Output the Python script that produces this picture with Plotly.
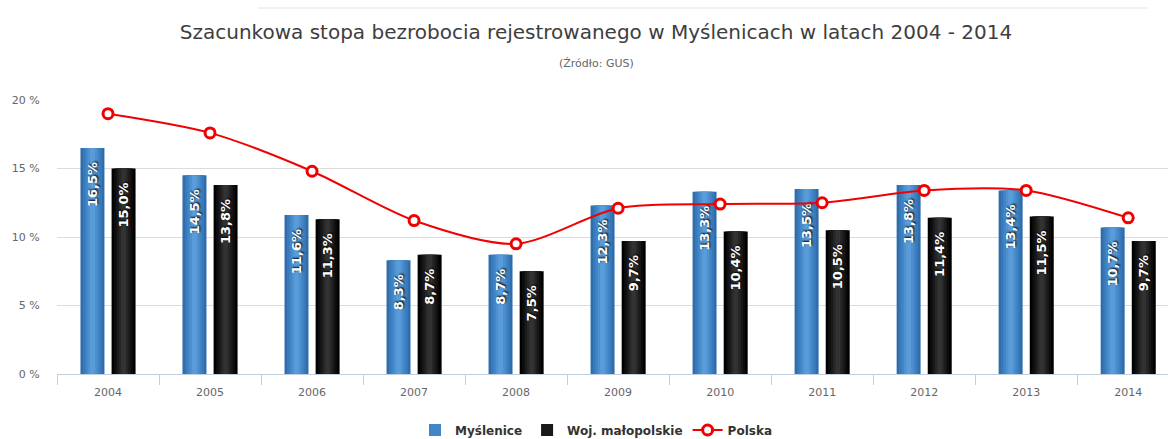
import plotly.graph_objects as go

years = ["2004", "2005", "2006", "2007", "2008", "2009", "2010", "2011", "2012", "2013", "2014"]
myslenice = [16.5, 14.5, 11.6, 8.3, 8.7, 12.3, 13.3, 13.5, 13.8, 13.4, 10.7]
malopolskie = [15.0, 13.8, 11.3, 8.7, 7.5, 9.7, 10.4, 10.5, 11.4, 11.5, 9.7]
polska = [19.0, 17.6, 14.8, 11.2, 9.5, 12.1, 12.4, 12.5, 13.4, 13.4, 11.4]
y_ticks = [0, 5, 10, 15, 20]
y_tick_labels = ["0 %", "5 %", "10 %", "15 %", "20 %"]

def fmt(v):
    return f"{v:.1f}".replace(".", ",") + "%"

LABEL_PAD = 0.8  # gap (in axis units) between bar top and its rotated label
BAR_W = 0.235
series = [
    ("Myślenice", myslenice, -0.27,
     ["#2f6cab", "#3879ba", "#4285c6", "#4d91d1", "#5a9cd9"]),
    ("Woj. małopolskie", malopolskie, 0.035,
     ["#000000", "#0c0c0c", "#191919", "#262626", "#323232"]),
]
fracs = [1.0, 0.8, 0.6, 0.4, 0.2]

fig = go.Figure()
for name, vals, off, cols in series:
    for k, (fr, c) in enumerate(zip(fracs, cols)):
        w = BAR_W * fr
        fig.add_trace(go.Bar(
            x=years, y=vals, name=name,
            width=w, offset=off + (BAR_W - w) / 2,
            marker=dict(color=c, line=dict(width=0)),
            showlegend=(k == 2), hoverinfo="skip" if k != 2 else None,
            legendrank=1 if name == "Myślenice" else 2,
        ))
    fig.add_trace(go.Bar(
        x=years, y=[v - LABEL_PAD for v in vals], name=name, width=BAR_W, offset=off,
        marker=dict(color="rgba(0,0,0,0)", line=dict(width=0)),
        text=[fmt(v) for v in vals], textposition="inside",
        insidetextanchor="end", textangle=-90,
        textfont=dict(family="DejaVu Sans", size=13, color="white", weight="bold",
                      shadow="1px 1px 2px #000000"),
        showlegend=False, hoverinfo="skip", constraintext="none",
    ))

fig.add_trace(go.Scatter(
    x=years, y=polska, name="Polska", mode="lines+markers",
    line=dict(color="#f00000", width=2, shape="spline", smoothing=0.8),
    marker=dict(symbol="circle", size=10, color="white",
                line=dict(color="#f00000", width=3)),
    cliponaxis=False, legendrank=3,
))

fig.update_layout(
    width=1168, height=439,
    margin=dict(l=57, r=0, t=100, b=65, autoexpand=False),
    barmode="overlay",
    paper_bgcolor="white", plot_bgcolor="white",
    font=dict(family="DejaVu Sans", color="#666666", size=11),
    title=dict(
        text="Szacunkowa stopa bezrobocia rejestrowanego w Myślenicach w latach 2004 - 2014",
        x=596 / 1168, xref="container", xanchor="center",
        y=1 - 32 / 439, yref="container", yanchor="middle",
        font=dict(family="DejaVu Sans", size=20, color="#3e3e3e"),
    ),
    annotations=[dict(
        text="(Źródło: GUS)", xref="paper", yref="paper",
        x=(596 - 57) / 1111, y=(374 - 63) / 274, xanchor="center", yanchor="middle",
        showarrow=False, font=dict(family="DejaVu Sans", size=11, color="#666666"),
    )],
    shapes=[dict(
        type="line", xref="paper", yref="paper",
        x0=(258 - 57) / 1111, x1=(1148 - 57) / 1111,
        y0=(374 - 8) / 274, y1=(374 - 8) / 274,
        line=dict(color="#e4e4e4", width=1),
    )],
    legend=dict(
        orientation="h", xref="container", yref="container",
        x=596 / 1168, xanchor="center", y=(439 - 430) / 439, yanchor="middle",
        font=dict(family="DejaVu Sans", size=12, color="#333333", weight="bold"),
        traceorder="normal", itemwidth=30,
    ),
    xaxis=dict(
        type="category", range=[-0.5, 10.39], tickson="boundaries",
        ticks="outside", ticklen=10, tickcolor="#c0d0e0",
        showline=True, linecolor="#c0d0e0", linewidth=1,
        showgrid=False, tickfont=dict(size=11, color="#666666"), automargin=False,
        ticklabelstandoff=8,
    ),
    yaxis=dict(
        range=[0, 20], tickvals=y_ticks, ticktext=y_tick_labels,
        showgrid=True, gridcolor="#dcdcdc", gridwidth=1,
        zeroline=False, showline=False,
        ticks="outside", ticklen=14, tickcolor="rgba(0,0,0,0)",
        tickfont=dict(size=11, color="#666666"), automargin=False,
    ),
)

fig.write_html(
    "out.html",
    config={"displayModeBar": False},
    post_script="document.body.style.margin='0';document.body.style.overflow='hidden';",
)
